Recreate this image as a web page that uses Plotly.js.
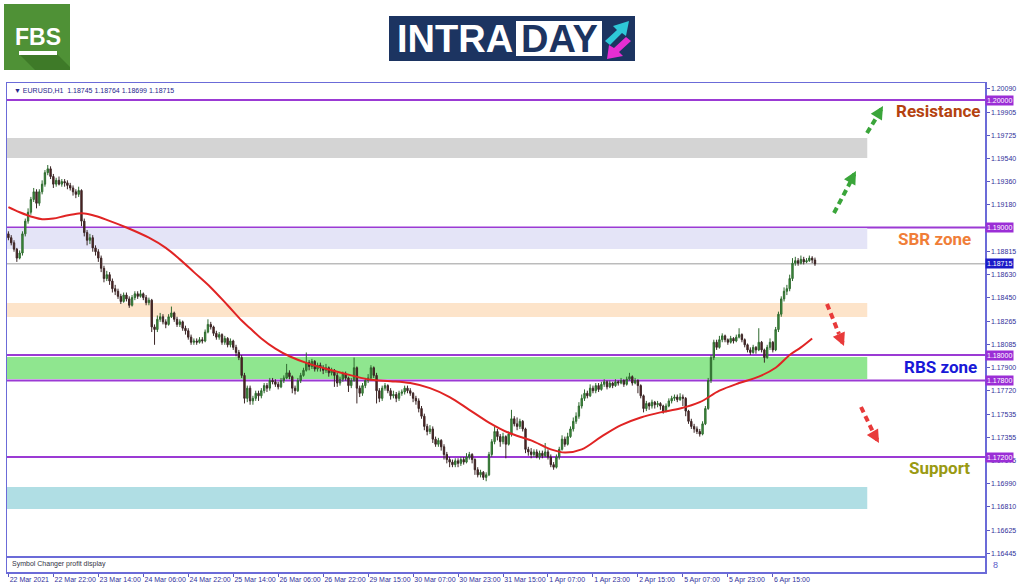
<!DOCTYPE html>
<html><head><meta charset="utf-8">
<script src="https://cdn.plot.ly/plotly-3.0.1.min.js"></script>
<style>body{margin:0;background:#fff}#chart{width:1024px;height:587px}</style>
</head><body><div id="chart"></div>
<script>
// ---- EURUSD H1 candles ----
const opens = [
1.1895,1.1892,1.1888,1.1883,1.1876,1.1880,1.1895,1.1905,1.1912,1.1922,
1.1928,1.1919,1.1928,1.1934,1.1943,1.1946,1.1940,1.1934,1.1937,1.1934,
1.1936,1.1935,1.1933,1.1931,1.1928,1.1926,1.1929,1.1905,1.1896,1.1890,
1.1892,1.1884,1.1881,1.1876,1.1868,1.1860,1.1863,1.1858,1.1852,1.1850,
1.1846,1.1842,1.1847,1.1844,1.1839,1.1845,1.1848,1.1846,1.1848,1.1845,
1.1841,1.1843,1.1822,1.1820,1.1828,1.1830,1.1826,1.1824,1.1830,1.1833,
1.1828,1.1824,1.1826,1.1821,1.1819,1.1814,1.1810,1.1811,1.1810,1.1812,
1.1811,1.1818,1.1824,1.1822,1.1817,1.1814,1.1816,1.1810,1.1813,1.1808,
1.1811,1.1806,1.1802,1.1798,1.1784,1.1766,1.1774,1.1764,1.1766,1.1770,
1.1768,1.1772,1.1776,1.1774,1.1780,1.1779,1.1777,1.1775,1.1780,1.1782,
1.1786,1.1783,1.1774,1.1772,1.1780,1.1784,1.1788,1.1794,1.1791,1.1795,
1.1789,1.1792,1.1790,1.1788,1.1790,1.1786,1.1788,1.1784,1.1778,1.1781,
1.1785,1.1782,1.1776,1.1780,1.1790,1.1774,1.1770,1.1776,1.1780,1.1782,
1.1790,1.1784,1.1772,1.1766,1.1774,1.1776,1.1772,1.1768,1.1769,1.1766,
1.1770,1.1771,1.1774,1.1772,1.1770,1.1766,1.1764,1.1758,1.1752,1.1744,
1.1740,1.1742,1.1734,1.1730,1.1733,1.1728,1.1722,1.1718,1.1716,1.1714,
1.1717,1.1715,1.1718,1.1716,1.1720,1.1722,1.1718,1.1710,1.1706,1.1708,
1.1704,1.1706,1.1722,1.1732,1.1740,1.1736,1.1732,1.1736,1.1730,1.1738,
1.1750,1.1746,1.1744,1.1748,1.1742,1.1726,1.1724,1.1722,1.1724,1.1720,
1.1723,1.1721,1.1724,1.1720,1.1714,1.1712,1.1720,1.1726,1.1734,1.1730,
1.1736,1.1742,1.1748,1.1752,1.1760,1.1766,1.1770,1.1768,1.1774,1.1772,
1.1776,1.1773,1.1777,1.1779,1.1775,1.1778,1.1776,1.1779,1.1778,1.1780,
1.1777,1.1781,1.1783,1.1778,1.1780,1.1776,1.1768,1.1758,1.1762,1.1760,
1.1763,1.1761,1.1762,1.1760,1.1756,1.1760,1.1764,1.1766,1.1767,1.1765,
1.1767,1.1766,1.1756,1.1748,1.1744,1.1742,1.1740,1.1738,1.1746,1.1758,
1.1780,1.1798,1.1810,1.1806,1.1812,1.1815,1.1812,1.1810,1.1813,1.1811,
1.1814,1.1816,1.1812,1.1808,1.1804,1.1802,1.1806,1.1804,1.1810,1.1804,
1.1798,1.1806,1.1810,1.1804,1.1820,1.1832,1.1844,1.1850,1.1852,1.1860,
1.1872,1.1874,1.1872,1.1875,1.1873,1.1874,1.1876,1.18745];
const highs = [
1.1897,1.1894,1.1890,1.1884,1.1882,1.1897,1.1907,1.1915,1.1924,1.1931,
1.1930,1.1930,1.1937,1.1945,1.1949,1.1948,1.1942,1.1939,1.1940,1.1938,
1.1938,1.1937,1.1935,1.1933,1.1930,1.1932,1.1930,1.1907,1.1898,1.1895,
1.1894,1.1886,1.1883,1.1878,1.1870,1.1866,1.1865,1.1860,1.1855,1.1852,
1.1848,1.1849,1.1849,1.1846,1.1847,1.1850,1.1850,1.1851,1.1849,1.1847,
1.1845,1.1844,1.1824,1.1831,1.1833,1.1832,1.1828,1.1832,1.1838,1.1834,
1.1830,1.1828,1.1827,1.1823,1.1821,1.1816,1.1813,1.1813,1.1814,1.1814,
1.1820,1.1828,1.1826,1.1823,1.1819,1.1818,1.1817,1.1815,1.1814,1.1813,
1.1812,1.1808,1.1804,1.1800,1.1786,1.1776,1.1776,1.1768,1.1772,1.1772,
1.1774,1.1778,1.1778,1.1782,1.1782,1.1781,1.1779,1.1782,1.1784,1.1793,
1.1788,1.1784,1.1776,1.1782,1.1786,1.1790,1.1802,1.1796,1.1797,1.1796,
1.1794,1.1794,1.1792,1.1793,1.1791,1.1790,1.1789,1.1786,1.1783,1.1787,
1.1787,1.1783,1.1782,1.1798,1.1791,1.1776,1.1778,1.1782,1.1785,1.1792,
1.1791,1.1786,1.1774,1.1776,1.1778,1.1777,1.1774,1.1772,1.1771,1.1772,
1.1773,1.1776,1.1776,1.1774,1.1771,1.1768,1.1766,1.1760,1.1754,1.1746,
1.1745,1.1744,1.1736,1.1735,1.1734,1.1730,1.1724,1.1720,1.1718,1.1719,
1.1719,1.1720,1.1720,1.1723,1.1724,1.1723,1.1719,1.1712,1.1710,1.1709,
1.1708,1.1724,1.1734,1.1744,1.1742,1.1738,1.1739,1.1737,1.1740,1.1757,
1.1752,1.1751,1.1750,1.1749,1.1743,1.1728,1.1727,1.1726,1.1726,1.1725,
1.1725,1.1731,1.1726,1.1722,1.1716,1.1722,1.1728,1.1737,1.1736,1.1739,
1.1744,1.1751,1.1755,1.1763,1.1769,1.1773,1.1772,1.1777,1.1776,1.1778,
1.1778,1.1779,1.1781,1.1780,1.1780,1.1779,1.1781,1.1780,1.1782,1.1781,
1.1783,1.1786,1.1784,1.1782,1.1781,1.1777,1.1769,1.1764,1.1763,1.1765,
1.1764,1.1764,1.1763,1.1761,1.1762,1.1766,1.1768,1.1769,1.1769,1.1770,
1.1769,1.1767,1.1757,1.1750,1.1746,1.1744,1.1742,1.1748,1.1760,1.1782,
1.1800,1.1812,1.1812,1.1815,1.1817,1.1816,1.1813,1.1815,1.1814,1.1816,
1.1821,1.1817,1.1813,1.1809,1.1806,1.1808,1.1807,1.1821,1.1811,1.1805,
1.1808,1.1813,1.1811,1.1822,1.1834,1.1846,1.1853,1.1855,1.1863,1.1876,
1.1877,1.1876,1.1878,1.1877,1.1876,1.1878,1.18775,1.18764];
const lows = [
1.1890,1.1886,1.1881,1.1873,1.1875,1.1878,1.1893,1.1903,1.1910,1.1920,
1.1915,1.1917,1.1926,1.1932,1.1941,1.1938,1.1931,1.1932,1.1933,1.1932,
1.1932,1.1930,1.1929,1.1925,1.1923,1.1924,1.1901,1.1893,1.1886,1.1887,
1.1881,1.1878,1.1873,1.1865,1.1857,1.1858,1.1855,1.1849,1.1847,1.1844,
1.1840,1.1841,1.1842,1.1837,1.1838,1.1843,1.1844,1.1845,1.1843,1.1839,
1.1839,1.1818,1.1808,1.1818,1.1826,1.1824,1.1821,1.1823,1.1829,1.1826,
1.1822,1.1822,1.1819,1.1816,1.1812,1.1808,1.1808,1.1808,1.1809,1.1809,
1.1810,1.1817,1.1820,1.1815,1.1812,1.1812,1.1808,1.1808,1.1806,1.1806,
1.1804,1.1799,1.1796,1.1782,1.1762,1.1763,1.1761,1.1761,1.1764,1.1764,
1.1766,1.1770,1.1771,1.1772,1.1777,1.1775,1.1773,1.1774,1.1778,1.1781,
1.1781,1.1770,1.1769,1.1771,1.1778,1.1783,1.1787,1.1788,1.1789,1.1787,
1.1787,1.1787,1.1785,1.1786,1.1783,1.1784,1.1775,1.1775,1.1776,1.1779,
1.1780,1.1771,1.1774,1.1779,1.1762,1.1767,1.1768,1.1774,1.1778,1.1780,
1.1782,1.1762,1.1763,1.1764,1.1772,1.1770,1.1765,1.1766,1.1763,1.1764,
1.1768,1.1769,1.1770,1.1768,1.1763,1.1761,1.1755,1.1750,1.1741,1.1737,
1.1738,1.1731,1.1728,1.1728,1.1725,1.1718,1.1715,1.1712,1.1712,1.1712,
1.1712,1.1713,1.1714,1.1715,1.1718,1.1715,1.1706,1.1704,1.1704,1.1702,
1.1701,1.1705,1.1720,1.1730,1.1733,1.1728,1.1730,1.1719,1.1729,1.1736,
1.1744,1.1741,1.1742,1.1740,1.1723,1.1721,1.1719,1.1720,1.1719,1.1718,
1.1719,1.1720,1.1718,1.1712,1.1710,1.1711,1.1718,1.1725,1.1728,1.1729,
1.1735,1.1740,1.1746,1.1750,1.1758,1.1764,1.1766,1.1767,1.1770,1.1770,
1.1771,1.1772,1.1775,1.1773,1.1774,1.1774,1.1775,1.1776,1.1777,1.1775,
1.1776,1.1780,1.1776,1.1777,1.1770,1.1766,1.1755,1.1756,1.1757,1.1758,
1.1758,1.1759,1.1757,1.1754,1.1755,1.1759,1.1762,1.1764,1.1763,1.1764,
1.1760,1.1752,1.1746,1.1742,1.1739,1.1738,1.1736,1.1737,1.1745,1.1757,
1.1778,1.1796,1.1804,1.1805,1.1810,1.1810,1.1808,1.1809,1.1809,1.1810,
1.1813,1.1810,1.1806,1.1802,1.1800,1.1801,1.1801,1.1803,1.1802,1.1794,
1.1797,1.1804,1.1802,1.1803,1.1818,1.1830,1.1842,1.1847,1.1850,1.1858,
1.1870,1.1870,1.1871,1.1871,1.1872,1.1873,1.1872,1.18699];
const closes = [
1.1892,1.1888,1.1883,1.1876,1.1880,1.1895,1.1905,1.1912,1.1922,1.1928,
1.1919,1.1928,1.1934,1.1943,1.1946,1.1940,1.1934,1.1937,1.1934,1.1936,
1.1935,1.1933,1.1931,1.1928,1.1926,1.1929,1.1905,1.1896,1.1890,1.1892,
1.1884,1.1881,1.1876,1.1868,1.1860,1.1863,1.1858,1.1852,1.1850,1.1846,
1.1842,1.1847,1.1844,1.1839,1.1845,1.1848,1.1846,1.1848,1.1845,1.1841,
1.1843,1.1822,1.1820,1.1828,1.1830,1.1826,1.1824,1.1830,1.1833,1.1828,
1.1824,1.1826,1.1821,1.1819,1.1814,1.1810,1.1811,1.1810,1.1812,1.1811,
1.1818,1.1824,1.1822,1.1817,1.1814,1.1816,1.1810,1.1813,1.1808,1.1811,
1.1806,1.1802,1.1798,1.1784,1.1766,1.1774,1.1764,1.1766,1.1770,1.1768,
1.1772,1.1776,1.1774,1.1780,1.1779,1.1777,1.1775,1.1780,1.1782,1.1786,
1.1783,1.1774,1.1772,1.1780,1.1784,1.1788,1.1794,1.1791,1.1795,1.1789,
1.1792,1.1790,1.1788,1.1790,1.1786,1.1788,1.1784,1.1778,1.1781,1.1785,
1.1782,1.1776,1.1780,1.1790,1.1774,1.1770,1.1776,1.1780,1.1782,1.1790,
1.1784,1.1772,1.1766,1.1774,1.1776,1.1772,1.1768,1.1769,1.1766,1.1770,
1.1771,1.1774,1.1772,1.1770,1.1766,1.1764,1.1758,1.1752,1.1744,1.1740,
1.1742,1.1734,1.1730,1.1733,1.1728,1.1722,1.1718,1.1716,1.1714,1.1717,
1.1715,1.1718,1.1716,1.1720,1.1722,1.1718,1.1710,1.1706,1.1708,1.1704,
1.1706,1.1722,1.1732,1.1740,1.1736,1.1732,1.1736,1.1730,1.1738,1.1750,
1.1746,1.1744,1.1748,1.1742,1.1726,1.1724,1.1722,1.1724,1.1720,1.1723,
1.1721,1.1724,1.1720,1.1714,1.1712,1.1720,1.1726,1.1734,1.1730,1.1736,
1.1742,1.1748,1.1752,1.1760,1.1766,1.1770,1.1768,1.1774,1.1772,1.1776,
1.1773,1.1777,1.1779,1.1775,1.1778,1.1776,1.1779,1.1778,1.1780,1.1777,
1.1781,1.1783,1.1778,1.1780,1.1776,1.1768,1.1758,1.1762,1.1760,1.1763,
1.1761,1.1762,1.1760,1.1756,1.1760,1.1764,1.1766,1.1767,1.1765,1.1767,
1.1766,1.1756,1.1748,1.1744,1.1742,1.1740,1.1738,1.1746,1.1758,1.1780,
1.1798,1.1810,1.1806,1.1812,1.1815,1.1812,1.1810,1.1813,1.1811,1.1814,
1.1816,1.1812,1.1808,1.1804,1.1802,1.1806,1.1804,1.1810,1.1804,1.1798,
1.1806,1.1810,1.1804,1.1820,1.1832,1.1844,1.1850,1.1852,1.1860,1.1872,
1.1874,1.1872,1.1875,1.1873,1.1874,1.1876,1.18745,1.18715];

// Moving average (red line), sampled at bar indices
const maBar = [0,4,9,12,16,20,25,27,31,35,42,50,56,61,66,72,78,83,86,90,95,100,107,115,122,129,136,143,150,157,164,171,178,186,193,198,204,211,218,225,232,239,246,253,260,267,273,278,282,286];
const maVal = [1.1916,1.1912,1.1908,1.19065,1.1907,1.1909,1.1911,1.1911,1.1909,1.1906,1.1900,1.1892,1.1884,1.1875,1.1865,1.1853,1.1839,1.1827,1.1821,1.1813,1.1805,1.1799,1.1793,1.1788,1.1784,1.17805,1.17795,1.1778,1.1774,1.1767,1.1757,1.1747,1.1739,1.1733,1.1726,1.17235,1.1726,1.1736,1.1745,1.1751,1.1755,1.1758,1.1763,1.1772,1.1778,1.1783,1.1790,1.1800,1.1806,1.1813];

// Time axis labels (every 16 bars)
const timeTickBar = [0,16,32,48,64,80,96,112,128,144,160,176,192,208,224,240,256,272];
const timeTickText = ['22 Mar 2021','22 Mar 22:00','23 Mar 14:00','24 Mar 06:00','24 Mar 22:00','25 Mar 14:00','26 Mar 06:00','26 Mar 22:00','29 Mar 15:00','30 Mar 07:00','30 Mar 23:00','31 Mar 15:00','1 Apr 07:00','1 Apr 23:00','2 Apr 15:00','5 Apr 07:00','5 Apr 23:00','6 Apr 15:00'];

// Price axis labels
const priceTicks = [1.20090,1.19905,1.19725,1.19540,1.19360,1.19180,1.18815,1.18630,1.18450,1.18265,1.18085,1.17900,1.17720,1.17535,1.17355,1.17175,1.16990,1.16810,1.16625,1.16445];

// Horizontal levels and zones
const levelPrices = [1.20000,1.19000,1.18000,1.17800,1.17200];
const zoneLow  = [1.19545,1.18831,1.18298,1.17812,1.16792];
const zoneHigh = [1.19702,1.18996,1.18408,1.17984,1.16965];
const zoneFill = ['#d4d4d4','#e4e4f7','#fde4ca','#8fe68f','#b0dee4'];

// ---- geometry helpers (pixel -> paper) ----
const L = 7, R = 985, T = 83, B = 572;
const px = x => (x - L) / (R - L);
const py = y => (B - y) / (B - T);
const P = (pts) => 'M' + pts.map(p => px(p[0]).toFixed(5) + ',' + py(p[1]).toFixed(5)).join(' L') + ' Z';

const barIdx = closes.map((_, i) => i);
const lastClose = closes[closes.length - 1];

const traces = [
  {
    type: 'candlestick', x: barIdx, open: opens, high: highs, low: lows, close: closes,
    increasing: {line: {color: '#2f6a2f', width: 1}, fillcolor: '#3f9a3f'},
    decreasing: {line: {color: '#3b2626', width: 1}, fillcolor: '#5b1f1f'},
    whiskerwidth: 0, hoverinfo: 'skip', showlegend: false
  },
  {
    type: 'scatter', mode: 'lines', x: maBar, y: maVal,
    line: {color: '#e02424', width: 2, shape: 'spline', smoothing: 1},
    hoverinfo: 'skip', showlegend: false
  }
];

const shapes = [];
zoneLow.forEach((lo, k) => shapes.push({type: 'rect', xref: 'x', yref: 'y', x0: -0.5, x1: 305.6, y0: lo, y1: zoneHigh[k], fillcolor: zoneFill[k], line: {width: 0}, layer: 'below'}));
levelPrices.forEach(v => shapes.push({type: 'line', xref: 'paper', yref: 'y', x0: 0, x1: 1, y0: v, y1: v, line: {color: '#9b3ad4', width: 2}, layer: 'below'}));
shapes.push({type: 'line', xref: 'paper', yref: 'y', x0: 0, x1: 1, y0: lastClose, y1: lastClose, line: {color: '#9a9a9a', width: 1}, layer: 'below'});
// sub-window separator
shapes.push({type: 'line', xref: 'paper', yref: 'paper', x0: 0, x1: 1, y0: py(557), y1: py(557), line: {color: '#6b6bd8', width: 2}});
// dashed arrows
const dashArrow = (a, b, c) => ({type: 'line', xref: 'paper', yref: 'paper', x0: px(a[0]), y0: py(a[1]), x1: px(b[0]), y1: py(b[1]), line: {color: c, width: 4, dash: '6px,4px'}});
shapes.push(dashArrow([834, 213], [852, 179], '#3aa53a'));
shapes.push(dashArrow([867, 133], [878, 115], '#3aa53a'));
shapes.push(dashArrow([827, 304], [839, 334], '#e83a3a'));
shapes.push(dashArrow([861, 407], [873, 432], '#e83a3a'));
// FBS logo
shapes.push({type: 'rect', xref: 'paper', yref: 'paper', x0: px(4), x1: px(70), y0: py(70), y1: py(4), fillcolor: '#4f9136', line: {width: 0}});
shapes.push({type: 'path', xref: 'paper', yref: 'paper', path: P([[19, 54], [57, 54], [70, 67], [70, 70], [35, 70]]), fillcolor: '#3e7a28', line: {width: 0}});
shapes.push({type: 'rect', xref: 'paper', yref: 'paper', x0: px(19), x1: px(57), y0: py(55), y1: py(51), fillcolor: '#ffffff', line: {width: 0}});
// INTRADAY logo
shapes.push({type: 'rect', xref: 'paper', yref: 'paper', x0: px(389), x1: px(635), y0: py(61), y1: py(16), fillcolor: '#1c3461', line: {width: 0}});
shapes.push({type: 'rect', xref: 'paper', yref: 'paper', x0: px(516), x1: px(602), y0: py(56), y1: py(21), fillcolor: '#ffffff', line: {width: 0}});
shapes.push({type: 'path', xref: 'paper', yref: 'paper', path: P([[605, 41], [617, 30], [613, 26], [629, 21], [626, 36], [622, 33], [610, 45]]), fillcolor: '#2ec8d8', line: {width: 0}});
shapes.push({type: 'path', xref: 'paper', yref: 'paper', path: P([[631, 41], [619, 52], [623, 56], [607, 59], [609, 45], [614, 48], [626, 37]]), fillcolor: '#e62ed2', line: {width: 0}});

const annotations = [];
const ann = (x, y, text, font, extra) => annotations.push(Object.assign({xref: 'paper', yref: 'paper', x: px(x), y: py(y), text: text, showarrow: false, font: font, xanchor: 'center', yanchor: 'middle'}, extra || {}));
// header line
ann(12, 90, '\u25BC EURUSD,H1  ' + [opens, highs, lows, closes].map(a => a[a.length - 1].toFixed(5)).join(' '), {family: 'Liberation Sans', size: 7, color: '#26268c'}, {xanchor: 'left'});
ann(10, 564, 'Symbol Changer profit display', {family: 'Liberation Sans', size: 7, color: '#333344'}, {xanchor: 'left'});
ann(991, 565, '8', {family: 'Liberation Sans', size: 9, color: '#5a5ac8'}, {xanchor: 'left'});
// zone labels
const lab = {family: 'Roboto', size: 17, weight: 700};
ann(938, 111, 'Resistance', Object.assign({}, lab, {color: '#b4420f'}));
ann(934, 239, 'SBR zone', Object.assign({}, lab, {color: '#f07e38'}));
ann(940, 367, 'RBS zone', Object.assign({}, lab, {color: '#1818d8'}));
ann(939, 468, 'Support', Object.assign({}, lab, {color: '#9a9a12'}));
// level price boxes on the axis
levelPrices.forEach(v => annotations.push({xref: 'paper', yref: 'y', x: 1, y: v, xanchor: 'left', yanchor: 'middle', text: v.toFixed(5), showarrow: false, bgcolor: '#9b2ed6', borderpad: 1, font: {family: 'Liberation Sans', size: 7, color: '#ffffff'}}));
annotations.push({xref: 'paper', yref: 'y', x: 1, y: lastClose, xanchor: 'left', yanchor: 'middle', text: lastClose.toFixed(5), showarrow: false, bgcolor: '#1a1ac8', borderpad: 1, font: {family: 'Liberation Sans', size: 7, color: '#ffffff'}});
// arrow heads
const head = (tip, off, c) => annotations.push({xref: 'paper', yref: 'paper', x: px(tip[0]), y: py(tip[1]), ax: off[0], ay: off[1], text: '', showarrow: true, arrowhead: 2, arrowsize: 0.65, arrowwidth: 4, arrowcolor: c, standoff: 0});
head([856, 171], [-3.9, 7.0], '#3aa53a');
head([883, 106], [-4.1, 6.9], '#3aa53a');
head([844, 346], [-3.2, -7.4], '#e83a3a');
head([879, 443], [-4.0, -6.9], '#e83a3a');
// logo texts
ann(38, 37, 'FBS', {family: 'Liberation Sans', size: 23, weight: 700, color: '#ffffff'});
ann(455, 39, 'INTRA', {family: 'Liberation Sans', size: 38, weight: 700, color: '#ffffff'});
ann(559, 39, 'DAY', {family: 'Liberation Sans', size: 38, weight: 700, color: '#1c3461'});

const layout = {
  width: 1024, height: 587,
  margin: {l: L, r: 1024 - R, t: T, b: 587 - B, pad: 0},
  paper_bgcolor: '#ffffff', plot_bgcolor: '#ffffff',
  showlegend: false, hovermode: false,
  xaxis: {
    range: [-0.5, 347.5], tickmode: 'array', tickvals: timeTickBar, ticktext: timeTickText,
    ticks: 'outside', ticklen: 3, tickcolor: '#5a5ac0', tickwidth: 1, tickangle: 0,
    ticklabelposition: 'outside right',
    tickfont: {family: 'Liberation Sans', size: 7, color: '#30309a'},
    showline: true, linecolor: '#6b6bd8', linewidth: 1.5, mirror: true,
    showgrid: false, zeroline: false, rangeslider: {visible: false}, fixedrange: true
  },
  yaxis: {
    side: 'right', range: [1.16298, 1.201333], tickmode: 'array', tickvals: priceTicks,
    ticktext: priceTicks.map(v => v.toFixed(5)),
    ticks: 'outside', ticklen: 3, tickcolor: '#5a5ac0',
    tickfont: {family: 'Liberation Sans', size: 7, color: '#30309a'},
    showline: true, linecolor: '#6b6bd8', linewidth: 1.5, mirror: true,
    showgrid: false, zeroline: false, fixedrange: true
  },
  shapes: shapes,
  annotations: annotations
};

Plotly.newPlot('chart', traces, layout, {staticPlot: true, displayModeBar: false});
</script>
</body></html>
